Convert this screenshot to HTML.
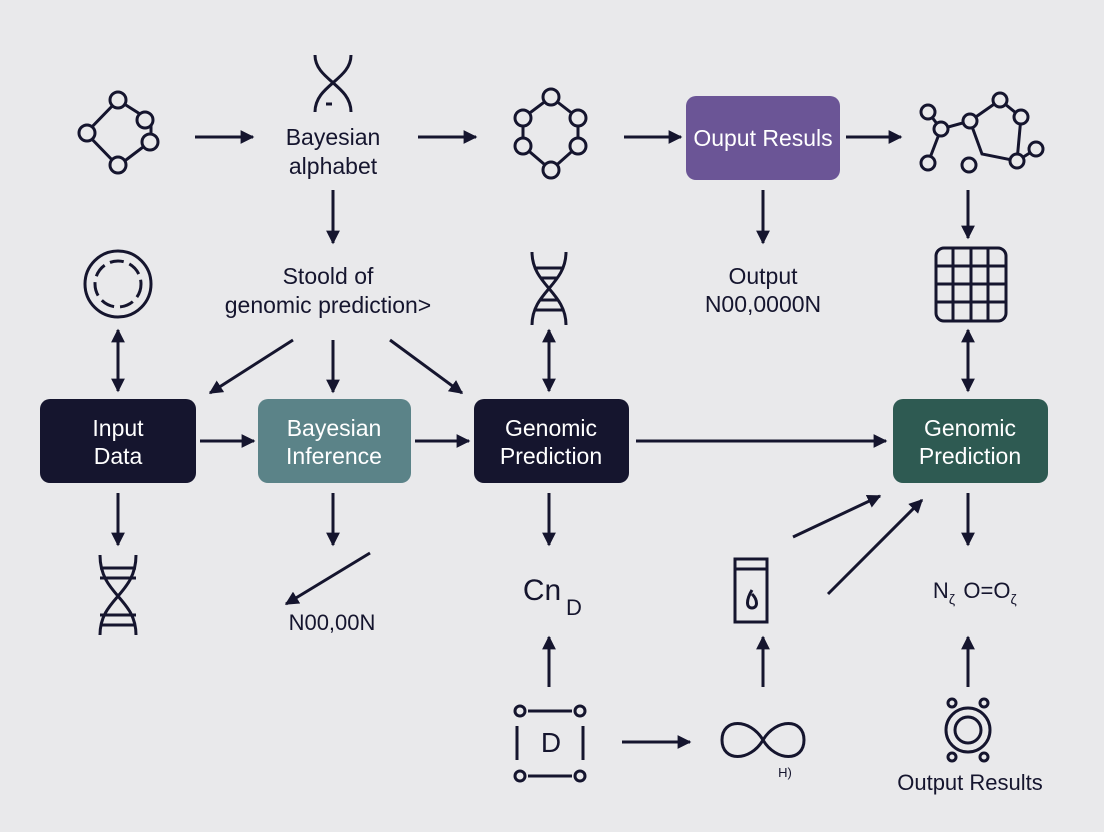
<!DOCTYPE html>
<html><head><meta charset="utf-8"><style>
html,body{margin:0;padding:0;background:#e9e9eb;}
svg{display:block}
text{font-family:"Liberation Sans",sans-serif;fill:#15152e;}
</style></head><body>
<svg width="1104" height="832" viewBox="0 0 1104 832" xmlns="http://www.w3.org/2000/svg">
<defs>
<marker id="a" viewBox="0 0 10 10" refX="9" refY="5" markerWidth="4.6" markerHeight="4.6" orient="auto-start-reverse"><path d="M0,0L10,5L0,10z" fill="#15152e"/></marker>
</defs>
<rect x="0" y="0" width="1104" height="832" rx="14" fill="#e9e9eb"/>
<g stroke="#15152e" stroke-width="3" fill="none" marker-end="url(#a)">
<line x1="195" y1="137" x2="253" y2="137"/>
<line x1="418" y1="137" x2="476" y2="137"/>
<line x1="624" y1="137" x2="681" y2="137"/>
<line x1="846" y1="137" x2="901" y2="137"/>
<line x1="333" y1="190" x2="333" y2="243"/>
<line x1="763" y1="190" x2="763" y2="243"/>
<line x1="968" y1="190" x2="968" y2="238"/>
<line x1="293" y1="340" x2="210" y2="393"/>
<line x1="333" y1="340" x2="333" y2="392"/>
<line x1="390" y1="340" x2="462" y2="393"/>
<line x1="118" y1="330" x2="118" y2="391" marker-start="url(#a)"/>
<line x1="549" y1="330" x2="549" y2="391" marker-start="url(#a)"/>
<line x1="968" y1="330" x2="968" y2="391" marker-start="url(#a)"/>
<line x1="200" y1="441" x2="254" y2="441"/>
<line x1="415" y1="441" x2="469" y2="441"/>
<line x1="636" y1="441" x2="886" y2="441"/>
<line x1="118" y1="493" x2="118" y2="545"/>
<line x1="333" y1="493" x2="333" y2="545"/>
<line x1="549" y1="493" x2="549" y2="545"/>
<line x1="968" y1="493" x2="968" y2="545"/>
<line x1="370" y1="553" x2="286" y2="604"/>
<line x1="549" y1="687" x2="549" y2="637"/>
<line x1="763" y1="687" x2="763" y2="637"/>
<line x1="968" y1="687" x2="968" y2="637"/>
<line x1="793" y1="537" x2="880" y2="496"/>
<line x1="828" y1="594" x2="922" y2="500"/>
<line x1="622" y1="742" x2="690" y2="742"/>
</g>
<rect x="40" y="399" width="156" height="84" rx="10" fill="#15152e"/>
<rect x="258" y="399" width="153" height="84" rx="10" fill="#5b8388"/>
<rect x="474" y="399" width="155" height="84" rx="10" fill="#15152e"/>
<rect x="893" y="399" width="155" height="84" rx="10" fill="#2e5a52"/>
<rect x="686" y="96" width="154" height="84" rx="10" fill="#6b5596"/>
<g font-size="23" text-anchor="middle">
<text x="118" y="436" style="fill:#fff">Input</text><text x="118" y="464" style="fill:#fff">Data</text>
<text x="334" y="436" style="fill:#fff">Bayesian</text><text x="334" y="464" style="fill:#fff">Inference</text>
<text x="551" y="436" style="fill:#fff">Genomic</text><text x="551" y="464" style="fill:#fff">Prediction</text>
<text x="970" y="436" style="fill:#fff">Genomic</text><text x="970" y="464" style="fill:#fff">Prediction</text>
<text x="763" y="146" style="fill:#fff">Ouput Resuls</text>
</g>
<g font-size="23" text-anchor="middle">
<text x="333" y="145">Bayesian</text><text x="333" y="174">alphabet</text>
<text x="328" y="284">Stoold of</text><text x="328" y="313">genomic prediction&gt;</text>
<text x="763" y="284">Output</text><text x="763" y="312">N00,0000N</text>
<text x="332" y="630" font-size="22">N00,00N</text>
<text x="970" y="790" font-size="22">Output Results</text>
<text x="955" y="598" font-size="22" text-anchor="end">N<tspan font-size="14" dy="6">ζ</tspan></text>
<text x="990" y="598" font-size="22">O=O<tspan font-size="14" dy="6">ζ</tspan></text>
<text x="785" y="777" font-size="13">H)</text>
<text x="542" y="600" font-size="30">Cn</text>
<text x="574" y="615" font-size="22">D</text>
<text x="551" y="752" font-size="28">D</text>
</g>
<g stroke="#15152e" stroke-width="3" fill="none">
<path d="M118 100L151 121L151 141L118 166L86 133Z"/>
<circle cx="118" cy="100" r="8" fill="#e9e9eb"/><circle cx="145" cy="120" r="8" fill="#e9e9eb"/><circle cx="150" cy="142" r="8" fill="#e9e9eb"/><circle cx="118" cy="165" r="8" fill="#e9e9eb"/><circle cx="87" cy="133" r="8" fill="#e9e9eb"/>
<path d="M315 55C315 80 351 85 351 112M351 55C351 80 315 85 315 112"/>
<line x1="326" y1="104" x2="332" y2="104"/>
<path d="M551 97L578 118L578 146L551 170L523 146L523 118Z"/>
<circle cx="551" cy="97" r="8" fill="#e9e9eb"/><circle cx="578" cy="118" r="8" fill="#e9e9eb"/><circle cx="578" cy="146" r="8" fill="#e9e9eb"/><circle cx="551" cy="170" r="8" fill="#e9e9eb"/><circle cx="523" cy="146" r="8" fill="#e9e9eb"/><circle cx="523" cy="118" r="8" fill="#e9e9eb"/>
<path d="M928 112L941 129L970 121L1000 100L1021 117L1017 161L982 154L970 121M941 129L928 163M1017 161L1036 149"/>
<circle cx="928" cy="112" r="7" fill="#e9e9eb"/><circle cx="941" cy="129" r="7" fill="#e9e9eb"/><circle cx="970" cy="121" r="7" fill="#e9e9eb"/><circle cx="1000" cy="100" r="7" fill="#e9e9eb"/><circle cx="1021" cy="117" r="7" fill="#e9e9eb"/><circle cx="1017" cy="161" r="7" fill="#e9e9eb"/><circle cx="1036" cy="149" r="7" fill="#e9e9eb"/><circle cx="928" cy="163" r="7" fill="#e9e9eb"/><circle cx="969" cy="165" r="7" fill="#e9e9eb"/>
<circle cx="118" cy="284" r="33"/><circle cx="118" cy="284" r="23" stroke-dasharray="14 6"/>
<path d="M532 252C532 285 566 292 566 325M566 252C566 285 532 292 532 325"/>
<line x1="535" y1="268" x2="563" y2="268"/><line x1="540" y1="278" x2="558" y2="278"/><line x1="540" y1="300" x2="558" y2="300"/><line x1="535" y1="310" x2="563" y2="310"/>
<rect x="936" y="248" width="70" height="73" rx="8"/>
<path d="M936 266H1006M936 284H1006M936 302H1006M953 248V321M971 248V321M988 248V321"/>
<path d="M100 555C100 595 136 598 136 635M136 555C136 595 100 598 100 635"/>
<line x1="100" y1="568" x2="136" y2="568"/><line x1="100" y1="578" x2="136" y2="578"/><line x1="100" y1="615" x2="136" y2="615"/><line x1="100" y1="625" x2="136" y2="625"/>
<rect x="735" y="559" width="32" height="63"/><path d="M735 569H767"/><path d="M752 590C746 600 746 608 752 608C758 608 758 600 752 594"/>
<circle cx="520" cy="711" r="5"/><circle cx="580" cy="711" r="5"/><circle cx="520" cy="776" r="5"/><circle cx="580" cy="776" r="5"/>
<path d="M528 711H572M528 776H572M517 726V760M583 726V760"/>
<path d="M763 740C750 718 722 718 722 740C722 762 750 762 763 740C776 718 804 718 804 740C804 762 776 762 763 740Z"/>
<circle cx="968" cy="730" r="22"/><circle cx="968" cy="730" r="13"/>
<circle cx="952" cy="703" r="4"/><circle cx="984" cy="703" r="4"/><circle cx="952" cy="757" r="4"/><circle cx="984" cy="757" r="4"/>
</g>
</svg>
</body></html>
